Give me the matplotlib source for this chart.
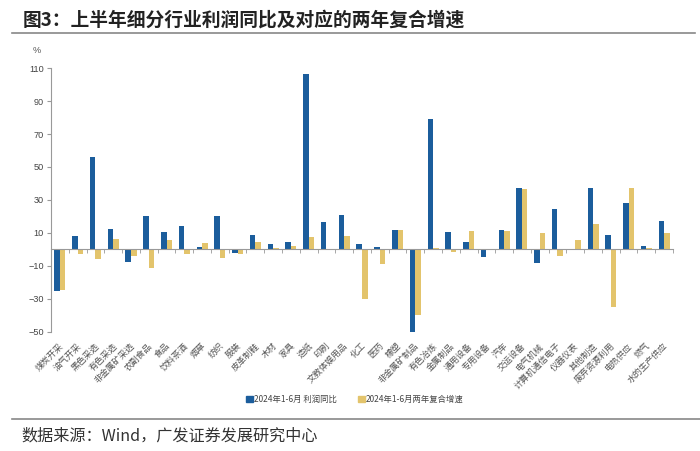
import numpy as np
import matplotlib
matplotlib.use("Agg")
import matplotlib.pyplot as plt
from matplotlib.lines import Line2D

plt.rcParams['font.family'] = ['Noto Sans CJK SC', 'DejaVu Sans']

# industries and values (%)
industries = ["煤炭开采", "油气开采", "黑色采选", "有色采选", "非金属矿采选", "农副食品",
              "食品", "饮料茶酒", "烟草", "纺织", "服装", "皮革制鞋", "木材", "家具",
              "造纸", "印刷", "文教体娱用品", "化工", "医药", "橡塑", "非金属矿制品",
              "有色冶炼", "金属制品", "通用设备", "专用设备", "汽车", "交运设备",
              "电气机械", "计算机通信电子", "仪器仪表", "其他制造", "废弃资源利用",
              "电热供应", "燃气", "水的生产供应"]
profit_yoy = [-25.1, 8.3, 56.2, 12.3, -7.5, 20.0, 10.9, 14.0, 1.4, 20.0, -2.0, 8.9,
              3.6, 4.7, 106.2, 16.8, 21.2, 3.2, 1.6, 12.1, -50.4, 79.1, 10.3, 4.4,
              -4.5, 11.7, 37.0, -8.1, 24.7, 0.2, 37.0, 8.9, 27.9, 2.2, 17.2]
two_year_cagr = [-24.3, -3.0, -5.5, 6.1, -3.8, -11.1, 5.7, -3.0, 3.8, -4.9, -2.6, 4.7,
                 0.8, 2.0, 7.5, 0.6, 8.1, -30.3, -8.9, 12.1, -39.8, 0.8, -1.6, 11.3,
                 0.4, 11.1, 36.8, 9.9, -3.8, 5.9, 15.2, -34.8, 37.4, 1.2, 9.9]
yticks = [-50, -30, -10, 10, 30, 50, 70, 90, 110]
series_names = ["2024年1-6月 利润同比", "2024年1-6月两年复合增速"]

blue = "#1b5d9c"
yellow = "#e3c46c"
grey = "#999999"

fig = plt.figure(figsize=(7, 4.51), dpi=100)
ax = fig.add_axes([0.0729, 0.2639, 0.8885, 0.5853])

x = np.arange(len(industries))
w = 0.31
ax.bar(x - w / 2, profit_yoy, width=w, color=blue, zorder=2)
ax.bar(x + w / 2, two_year_cagr, width=w, color=yellow, zorder=2)

ax.set_xlim(-0.5, len(industries) - 0.5)
ax.set_ylim(-50, 110)
ax.set_yticks(yticks)
ax.tick_params(axis='y', direction='out', length=3, color=grey, labelsize=6.6,
               labelcolor="#444444", pad=2)
for lab in ax.get_yticklabels():
    lab.set_family(['Liberation Sans', 'DejaVu Sans'])

for s in ['top', 'right']:
    ax.spines[s].set_visible(False)
ax.spines['left'].set_color(grey)
ax.spines['left'].set_linewidth(0.8)
ax.spines['bottom'].set_position(('data', 0))
ax.spines['bottom'].set_color(grey)
ax.spines['bottom'].set_linewidth(0.8)
ax.set_xticks([])
ax.set_xticks(np.arange(len(industries) + 1) - 0.5, minor=True)
ax.tick_params(axis='x', which='minor', direction='out', length=3, color=grey)

# rotated category labels below the plot
for i, name in enumerate(industries):
    ax.text(i - 0.05, -0.035, name, transform=ax.get_xaxis_transform(),
            rotation=45, ha='right', va='top', rotation_mode='anchor',
            fontsize=6.3, color="#555555")

fig.text(0.047, 0.887, "%", fontsize=6.6, color="#555555", ha='left', va='center',
         family=['Liberation Sans', 'DejaVu Sans'])

# title and rules
fig.text(0.033, 0.956, "图3：上半年细分行业利润同比及对应的两年复合增速", fontsize=13.5,
         fontweight='bold', color="#222222", ha='left', va='center')
fig.add_artist(Line2D([0.017, 0.993], [0.927, 0.927], color="#888888", lw=1.2))
fig.add_artist(Line2D([0.017, 1.0], [0.071, 0.071], color="#888888", lw=1.2))
fig.text(0.031, 0.033, "数据来源：Wind，广发证券发展研究中心", fontsize=11.6,
         color="#333333", ha='left', va='center')

handles = [plt.Rectangle((0, 0), 1, 1, color=blue), plt.Rectangle((0, 0), 1, 1, color=yellow)]
fig.legend(handles, series_names, loc='center', bbox_to_anchor=(0.507, 0.115), ncol=2,
           frameon=False, fontsize=6, handlelength=0.8, handleheight=0.8,
           handletextpad=0.2, columnspacing=2.5, labelcolor="#444444")

fig.savefig("out.png", dpi=100)
